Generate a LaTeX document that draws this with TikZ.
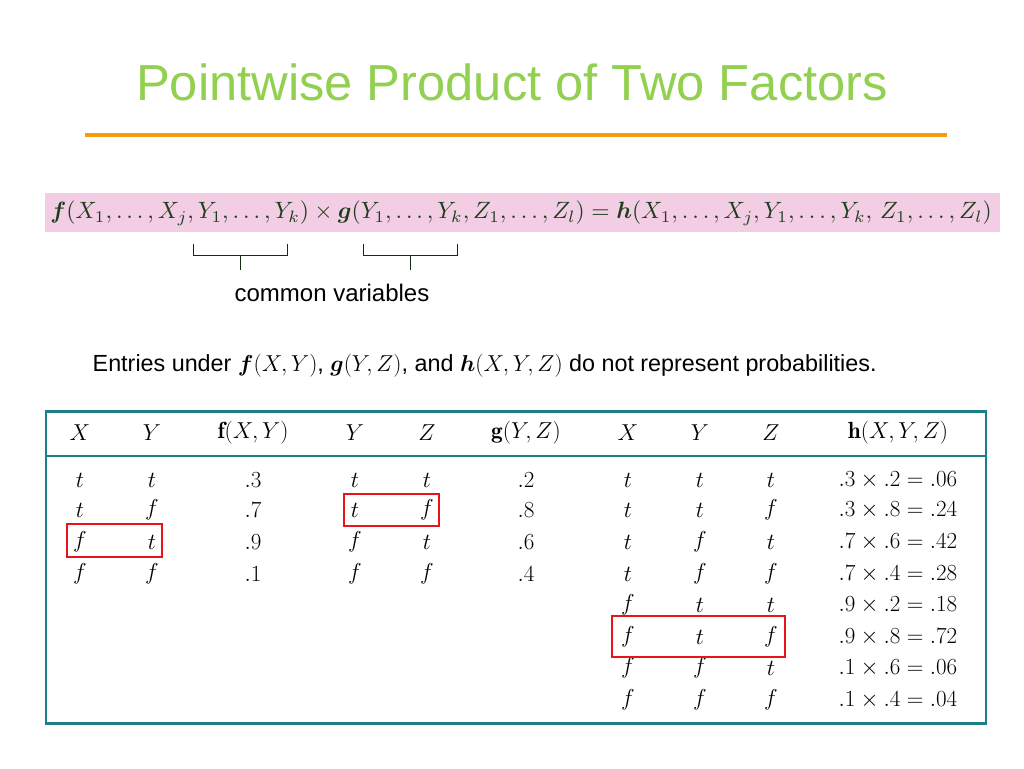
\documentclass[tikz,border=0pt]{standalone}
\usepackage{amsmath,bm,graphicx}
\usepackage{fontspec}
\setsansfont{Liberation Sans}
\definecolor{ttl}{HTML}{92D050}
\definecolor{org}{HTML}{F39C12}
\definecolor{pinkbg}{HTML}{F2CDE3}
\definecolor{fgreen}{HTML}{1E3D1E}
\definecolor{teal}{HTML}{1D7F85}
\definecolor{rbox}{HTML}{E8141B}
\tikzset{cell/.style={inner sep=0pt,font=\fontsize{17.5}{20}\selectfont},
  redbox/.style={draw=rbox,line width=1.5pt},
  bracket/.style={draw=fgreen!70!black,line width=0.6pt}}
\begin{document}
\begin{tikzpicture}[x=0.75pt,y=-0.75pt]
\useasboundingbox (0,0) rectangle (1024,768);
\node[font=\sffamily\fontsize{38}{44}\selectfont,text=ttl] (title) at (512,82) {Pointwise Product of Two Factors};
\draw[org,line width=3.5pt] (85,135) -- (947,135);
\fill[pinkbg] (45,193) rectangle (1000,232);
\node[text=fgreen,inner sep=0pt] (formula) at (521,213) {\resizebox{706pt}{!}{$\bm{f}(X_1,\dots,X_j,Y_1,\dots,Y_k)\times\bm{g}(Y_1,\dots,Y_k,Z_1,\dots,Z_l)=\bm{h}(X_1,\dots,X_j,Y_1,\dots,Y_k,\,Z_1,\dots,Z_l)$}};
\draw[bracket] (193,244) -- (193,255) -- (287,255) -- (287,244);
\draw[bracket] (240,255) -- (240,270);
\draw[bracket] (363,244) -- (363,255) -- (457,255) -- (457,244);
\draw[bracket] (410,255) -- (410,270);
\node[font=\sffamily\fontsize{18}{21}\selectfont] (cv) at (332,293) {common variables};
\node[font=\sffamily\fontsize{17.5}{21}\selectfont,anchor=west] (entries) at (88,366) {Entries under $\bm{f}(X,Y)$, $\bm{g}(Y,Z)$, and $\bm{h}(X,Y,Z)$ do not represent probabilities.};
\node[draw=teal,line width=2.2pt,minimum width=705pt,minimum height=234pt,inner sep=0pt] (tbl) at (516,567.5) {};
\draw[teal,line width=2.2pt] (47,456) -- (985,456);
% header
\foreach \x/\t [count=\i] in {80/{$X$},152/{$Y$},253/{$\mathbf{f}(X,Y)$},355/{$Y$},427/{$Z$},526/{$\mathbf{g}(Y,Z)$},628/{$X$},700/{$Y$},771/{$Z$},898/{$\mathbf{h}(X,Y,Z)$}}
  \node[cell] (h\i) at (\x,433) {\t};
\foreach \y/\a/\b/\c/\d/\e/\g [count=\r] in {480/t/t/.3/t/t/.2, 510/t/f/.7/t/f/.8, 542/f/t/.9/f/t/.6, 574/f/f/.1/f/f/.4}{
  \node[cell] (a\r) at (80,\y) {$\a$};
  \node[cell] (b\r) at (152,\y) {$\b$};
  \node[cell] (c\r) at (253,\y) {$\c$};
  \node[cell] (d\r) at (355,\y) {$\d$};
  \node[cell] (e\r) at (427,\y) {$\e$};
  \node[cell] (g\r) at (526,\y) {$\g$};
}
\foreach \y/\a/\b/\c/\v [count=\r] in {480/t/t/t/{.3\times.2=.06}, 510/t/t/f/{.3\times.8=.24}, 542/t/f/t/{.7\times.6=.42}, 574/t/f/f/{.7\times.4=.28}, 605/f/t/t/{.9\times.2=.18}, 637/f/t/f/{.9\times.8=.72}, 668/f/f/t/{.1\times.6=.06}, 700/f/f/f/{.1\times.4=.04}}{
  \node[cell] (x\r) at (628,\y) {$\a$};
  \node[cell] (y\r) at (700,\y) {$\b$};
  \node[cell] (z\r) at (771,\y) {$\c$};
  \node[cell] (v\r) at (898,\y) {$\v$};
}
\draw[redbox] (67,524) rectangle (162,557);
\draw[redbox] (344,494) rectangle (439,526);
\draw[redbox] (612,616) rectangle (785,657);
\end{tikzpicture}
\end{document}
